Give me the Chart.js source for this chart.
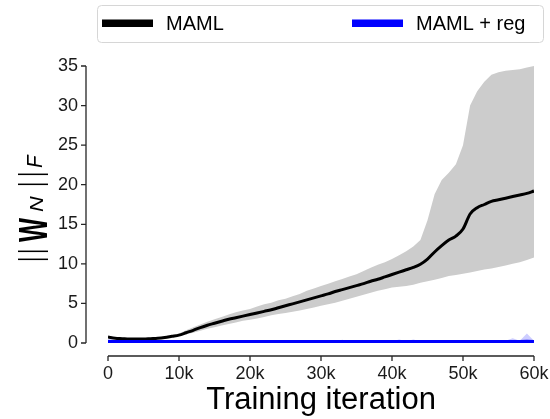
<!DOCTYPE html>
<html>
<head>
<meta charset="utf-8">
<script src="https://cdn.jsdelivr.net/npm/chart.js@4/dist/chart.umd.min.js"></script>
<style>
  html, body { margin: 0; padding: 0; background: #fff; }
  canvas { display: block; }
</style>
</head>
<body>
<canvas id="normChart" width="550" height="419"></canvas>
<script>
// training iteration, in thousands
const iterations = [
  0, 1, 2, 3, 4, 5, 6, 7, 8, 9,
  10, 11, 12, 13, 14, 15, 16, 17, 18, 19,
  20, 21, 22, 23, 24, 25, 26, 27, 28, 29,
  30, 31, 32, 33, 34, 35, 36, 37, 38, 39,
  40, 41, 42, 43, 44, 45, 46, 47, 48, 49,
  50, 51, 52, 53, 54, 55, 56, 57, 58, 59, 60
];

// MAML: mean norm and spread
const mamlMean = [
  0.75, 0.6, 0.55, 0.5, 0.5, 0.5, 0.55, 0.6, 0.7, 0.85,
  1.0, 1.3, 1.6, 1.95, 2.25, 2.5, 2.75, 3.0, 3.2, 3.4,
  3.6, 3.8, 4.0, 4.2, 4.45, 4.7, 4.95, 5.2, 5.45, 5.7,
  5.95, 6.2, 6.5, 6.75, 7.0, 7.25, 7.5, 7.8, 8.05, 8.35,
  8.65, 8.95, 9.25, 9.55, 9.95, 10.6, 11.5, 12.3, 13.0, 13.5,
  14.4, 16.3, 17.1, 17.5, 17.9, 18.1, 18.3, 18.5, 18.7, 18.9, 19.2
];
const mamlUpper = [
  0.85, 0.7, 0.65, 0.6, 0.6, 0.6, 0.65, 0.72, 0.85, 1.0,
  1.2, 1.6, 2.0, 2.35, 2.7, 3.0, 3.3, 3.6, 3.9, 4.1,
  4.3, 4.6, 4.9, 5.1, 5.4, 5.6, 5.9, 6.2, 6.6, 6.9,
  7.2, 7.5, 7.8, 8.1, 8.4, 8.7, 9.1, 9.5, 9.9, 10.2,
  10.6, 11.1, 11.6, 12.2, 13.0, 15.5, 18.8, 20.6, 21.5, 22.6,
  25.0, 30.0, 31.8, 33.0, 33.9, 34.2, 34.4, 34.5, 34.6, 34.8, 35.0
];
const mamlLower = [
  0.65, 0.5, 0.45, 0.4, 0.4, 0.4, 0.45, 0.5, 0.58, 0.72,
  0.9, 1.1, 1.3, 1.55, 1.8, 2.0, 2.2, 2.4, 2.6, 2.8,
  2.95, 3.1, 3.3, 3.5, 3.65, 3.8, 3.95, 4.1, 4.3, 4.5,
  4.7, 4.9, 5.1, 5.35, 5.6, 5.85, 6.1, 6.35, 6.6, 6.8,
  7.0, 7.1, 7.2, 7.35, 7.6, 7.8, 8.0, 8.2, 8.45, 8.6,
  8.75, 8.9, 9.1, 9.3, 9.4, 9.6, 9.8, 10.0, 10.2, 10.5, 10.8
];

// MAML + reg: stays close to zero
const regMean = [
  0.18, 0.15, 0.15, 0.15, 0.15, 0.15, 0.15, 0.15, 0.15, 0.15,
  0.15, 0.15, 0.15, 0.15, 0.15, 0.15, 0.15, 0.15, 0.15, 0.15,
  0.15, 0.15, 0.15, 0.15, 0.15, 0.15, 0.15, 0.15, 0.15, 0.15,
  0.15, 0.15, 0.15, 0.15, 0.15, 0.15, 0.15, 0.15, 0.15, 0.15,
  0.15, 0.15, 0.15, 0.15, 0.15, 0.15, 0.15, 0.15, 0.15, 0.15,
  0.15, 0.15, 0.15, 0.15, 0.15, 0.15, 0.15, 0.15, 0.15, 0.2, 0.15
];
const regUpper = [
  0.25, 0.22, 0.22, 0.22, 0.22, 0.22, 0.22, 0.22, 0.22, 0.22,
  0.22, 0.22, 0.22, 0.22, 0.22, 0.22, 0.22, 0.22, 0.22, 0.22,
  0.22, 0.22, 0.22, 0.22, 0.22, 0.22, 0.22, 0.22, 0.22, 0.22,
  0.22, 0.22, 0.22, 0.4, 0.22, 0.22, 0.22, 0.22, 0.22, 0.22,
  0.22, 0.45, 0.22, 0.45, 0.22, 0.22, 0.22, 0.22, 0.22, 0.22,
  0.22, 0.22, 0.22, 0.22, 0.22, 0.22, 0.3, 0.6, 0.3, 1.2, 0.3
];
const regLower = [
  0.1, 0.08, 0.08, 0.08, 0.08, 0.08, 0.08, 0.08, 0.08, 0.08,
  0.08, 0.08, 0.08, 0.08, 0.08, 0.08, 0.08, 0.08, 0.08, 0.08,
  0.08, 0.08, 0.08, 0.08, 0.08, 0.08, 0.08, 0.08, 0.08, 0.08,
  0.08, 0.08, 0.08, 0.08, 0.08, 0.08, 0.08, 0.08, 0.08, 0.08,
  0.08, 0.08, 0.08, 0.08, 0.08, 0.08, 0.08, 0.08, 0.08, 0.08,
  0.08, 0.08, 0.08, 0.08, 0.08, 0.08, 0.08, 0.08, 0.08, 0.08, 0.08
];

const xTicks = [0, 10, 20, 30, 40, 50, 60];
const yTicks = [0, 5, 10, 15, 20, 25, 30, 35];

const FONT = "'Liberation Sans', Arial, sans-serif";

function pts(ys) {
  return iterations.map((x, i) => ({ x: x, y: ys[i] }));
}

// draws text squeezed into a given box (used for the pieces of the y label)
function drawFit(ctx, text, font, x0, x1, yTop, yBot) {
  ctx.font = font;
  const m = ctx.measureText(text);
  const w = m.actualBoundingBoxLeft + m.actualBoundingBoxRight;
  const h = m.actualBoundingBoxAscent + m.actualBoundingBoxDescent;
  ctx.save();
  ctx.translate(x0, yTop);
  ctx.scale((x1 - x0) / w, (yBot - yTop) / h);
  ctx.fillText(text, m.actualBoundingBoxLeft, m.actualBoundingBoxAscent);
  ctx.restore();
}

// offset spines, tick marks, y label and the boxed legend
const decorations = {
  id: 'decorations',
  afterDraw(chart) {
    const ctx = chart.ctx;
    const xs = chart.scales.x, ys = chart.scales.y;
    const area = chart.chartArea;
    const spineX = area.left - 22;
    const spineY = area.bottom + 13;

    ctx.save();
    ctx.strokeStyle = '#262626';
    ctx.lineWidth = 1.3;
    ctx.beginPath();
    ctx.moveTo(spineX, ys.getPixelForValue(yTicks[0]));
    ctx.lineTo(spineX, ys.getPixelForValue(yTicks[yTicks.length - 1]));
    yTicks.forEach(v => {
      const py = ys.getPixelForValue(v);
      ctx.moveTo(spineX - 5, py);
      ctx.lineTo(spineX, py);
    });
    ctx.moveTo(xs.getPixelForValue(xTicks[0]), spineY);
    ctx.lineTo(xs.getPixelForValue(xTicks[xTicks.length - 1]), spineY);
    xTicks.forEach(v => {
      const px = xs.getPixelForValue(v);
      ctx.moveTo(px, spineY);
      ctx.lineTo(px, spineY + 5);
    });
    ctx.stroke();

    // y label ||W_N||_F, written bottom to top
    ctx.translate(47, 262);
    ctx.rotate(-Math.PI / 2);
    ctx.fillStyle = '#000';
    const bar = '30px ' + FONT;
    drawFit(ctx, '|', bar, 1.5, 4, -29, 0);
    drawFit(ctx, '|', bar, 9.5, 12, -29, 0);
    drawFit(ctx, 'W', 'bold 38px ' + FONT, 20, 44, -29, 0);
    drawFit(ctx, 'N', 'italic 19px ' + FONT, 50, 66, -16, -4);
    drawFit(ctx, '|', bar, 76.5, 79, -29, 0);
    drawFit(ctx, '|', bar, 86.5, 89, -29, 0);
    drawFit(ctx, 'F', 'italic 19px ' + FONT, 94, 108, -20, -5);
    ctx.restore();

    // legend frame with two entries spread across it
    ctx.save();
    ctx.fillStyle = '#fff';
    ctx.strokeStyle = '#d6d6d6';
    ctx.lineWidth = 1;
    ctx.beginPath();
    ctx.roundRect(97.5, 5.5, 446, 37, 4);
    ctx.fill();
    ctx.stroke();
    const entries = chart.data.datasets
      .filter(d => d.legendSlot !== undefined)
      .sort((a, b) => a.legendSlot - b.legendSlot);
    const slots = [102, 352];
    ctx.font = '20px ' + FONT;
    ctx.textBaseline = 'alphabetic';
    entries.forEach((d, i) => {
      const x = slots[i];
      ctx.fillStyle = d.borderColor;
      ctx.fillRect(x, 19.5, 51, 7.5);
      ctx.fillStyle = '#000';
      ctx.fillText(d.label, x + 64, 29.5);
    });
    ctx.restore();
  }
};

new Chart(document.getElementById('normChart'), {
  type: 'line',
  data: {
    datasets: [
      { label: 'reg lower', data: pts(regLower), borderWidth: 0, pointRadius: 0, fill: false, order: 1 },
      { label: 'reg upper', data: pts(regUpper), borderWidth: 0, pointRadius: 0,
        fill: 0, backgroundColor: 'rgba(90, 90, 255, 0.3)', order: 1 },
      { label: 'MAML + reg', legendSlot: 1, data: pts(regMean), borderColor: '#0000ff',
        borderWidth: 3.5, pointRadius: 0, fill: false, order: 0 },
      { label: 'MAML lower', data: pts(mamlLower), borderWidth: 0, pointRadius: 0, fill: false, order: 3 },
      { label: 'MAML upper', data: pts(mamlUpper), borderWidth: 0, pointRadius: 0,
        fill: 3, backgroundColor: '#cccccc', order: 3 },
      { label: 'MAML', legendSlot: 0, data: pts(mamlMean), borderColor: '#000000',
        borderWidth: 3, pointRadius: 0, fill: false, cubicInterpolationMode: 'monotone', order: 2 }
    ]
  },
  options: {
    responsive: false,
    animation: false,
    layout: { padding: { left: 0, right: 16, top: 66, bottom: 0 } },
    plugins: {
      legend: { display: false },
      tooltip: { enabled: false }
    },
    scales: {
      x: {
        type: 'linear',
        min: 0,
        max: 60,
        grid: { display: false, drawTicks: false },
        border: { display: false },
        afterBuildTicks: s => { s.ticks = xTicks.map(v => ({ value: v })); },
        afterFit: s => { s.height = 76; s.paddingLeft = 0; s.paddingRight = 0; },
        ticks: {
          padding: 20,
          color: '#1a1a1a',
          font: { family: FONT, size: 18 },
          maxRotation: 0,
          callback: v => (v === 0 ? '0' : v + 'k')
        },
        title: {
          display: true,
          text: 'Training iteration',
          color: '#000',
          padding: { top: 0, bottom: 0 },
          font: { family: FONT, size: 31, lineHeight: 1.2 }
        }
      },
      y: {
        min: 0,
        max: 35,
        grid: { display: false, drawTicks: false },
        border: { display: false },
        afterBuildTicks: s => { s.ticks = yTicks.map(v => ({ value: v })); },
        afterFit: s => { s.width = 108; s.paddingTop = 0; s.paddingBottom = 0; },
        ticks: {
          padding: 30,
          color: '#1a1a1a',
          font: { family: FONT, size: 18 }
        }
      }
    }
  },
  plugins: [decorations]
});
</script>
</body>
</html>
